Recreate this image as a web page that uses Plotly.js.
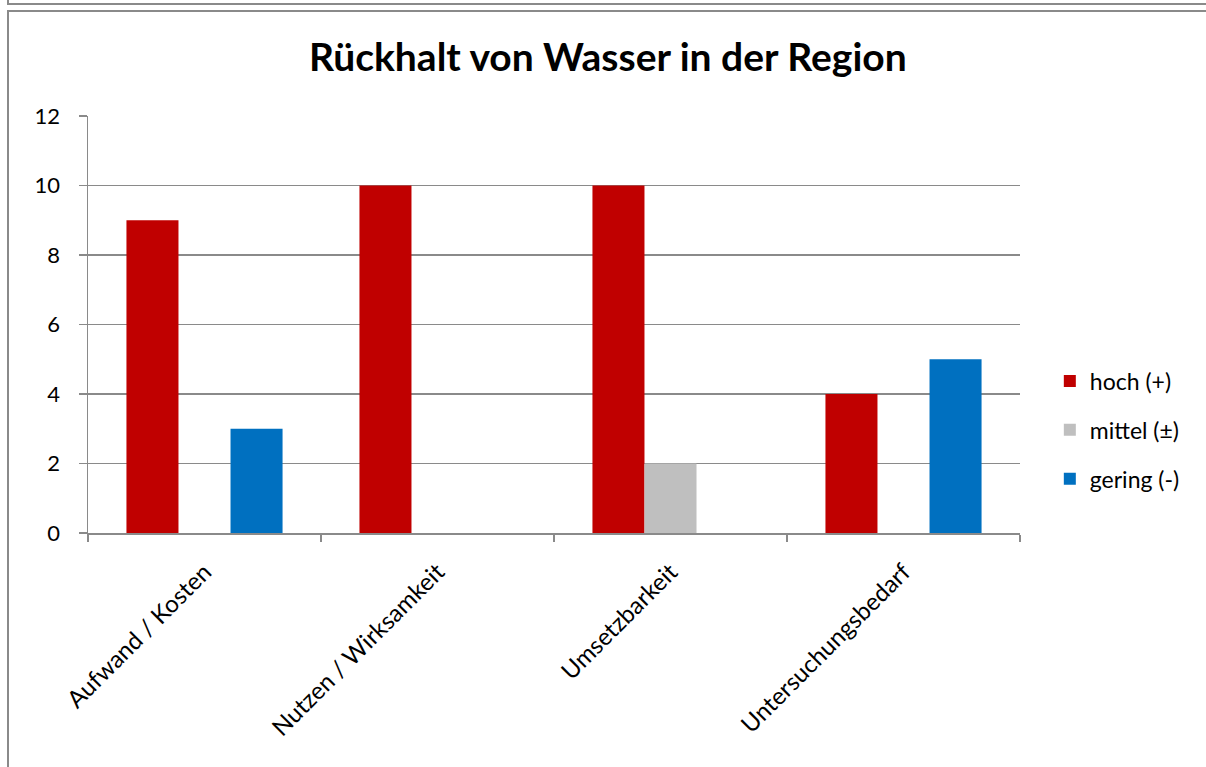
<!DOCTYPE html>
<html>
<head>
<meta charset="utf-8">
<script src="https://cdn.plot.ly/plotly-3.0.1.min.js"></script>
<style>
html,body{margin:0;padding:0;background:#fff;}
#wrap{position:relative;width:1206px;height:767px;overflow:hidden;}
#chart{position:absolute;left:0;top:0;width:1206px;height:767px;}
.fr{position:absolute;border-color:#8a8a8a;border-style:solid;border-width:0;}
</style>
</head>
<body>
<div id="wrap">
<div id="chart"></div>
<div class="fr" style="left:7px;top:-10px;width:1300px;height:13px;border-left-width:2px;border-bottom-width:2px;"></div>
<div class="fr" style="left:7px;top:10px;width:1300px;height:800px;border-left-width:2px;border-top-width:2px;"></div>
</div>
<script>
const categories = ["Aufwand / Kosten", "Nutzen / Wirksamkeit", "Umsetzbarkeit", "Untersuchungsbedarf"];
const seriesNames = ["hoch (+)", "mittel (±)", "gering (-)"];
const hoch = [9, 10, 10, 4];
const mittel = [0, 0, 2, 0];
const gering = [3, 0, 0, 5];
const colors = ["#C00000", "#BFBFBF", "#0070C0"];

const font = "Lato, 'Open Sans', 'Liberation Sans', sans-serif";
const data = [hoch, mittel, gering].map((vals, i) => ({
  type: "bar",
  name: seriesNames[i],
  legendgroup: "g" + i,
  x: categories,
  y: vals,
  marker: {color: colors[i], line: {width: 0}},
  hoverinfo: "x+y+name"
}));

const layout = {
  width: 1206, height: 767,
  margin: {l: 88, r: 186, t: 116, b: 234, pad: 0},
  paper_bgcolor: "rgba(0,0,0,0)",
  plot_bgcolor: "#fff",
  barmode: "group",
  bargap: 0.33,
  bargroupgap: 0,
  title: {
    text: "<b>Rückhalt von Wasser in der Region</b>",
    font: {family: font, size: 39, color: "#000"},
    xref: "container", x: 0.504, xanchor: "center",
    yref: "container", y: 0.925, yanchor: "middle"
  },
  xaxis: {
    type: "category",
    tickangle: -45,
    tickfont: {family: font, size: 24, color: "#000"},
    showline: true, linecolor: "#8a8a8a", linewidth: 1.5,
    ticks: "outside", ticklen: 7, tickcolor: "#8a8a8a", tickwidth: 1.5,
    tickson: "boundaries",
    ticklabelstandoff: 14,
    showgrid: false,
    fixedrange: true
  },
  yaxis: {
    range: [0, 12],
    dtick: 2,
    tickfont: {family: font, size: 22, color: "#000"},
    showline: true, linecolor: "#8a8a8a", linewidth: 1.5,
    ticks: "outside", ticklen: 8, tickcolor: "#8a8a8a", tickwidth: 1.5,
    showgrid: true, gridcolor: "#8a8a8a", gridwidth: 1.2,
    zeroline: false,
    ticklabelstandoff: 14,
    fixedrange: true
  },
  legend: {
    x: 1.032, xanchor: "left",
    y: 0.247, yanchor: "middle",
    font: {family: font, size: 23, color: "#000"},
    traceorder: "grouped",
    tracegroupgap: 16,
    itemwidth: 30,
    bgcolor: "rgba(0,0,0,0)"
  },
  showlegend: true
};

Plotly.newPlot("chart", data, layout, {displayModeBar: false, staticPlot: true});
</script>
</body>
</html>
